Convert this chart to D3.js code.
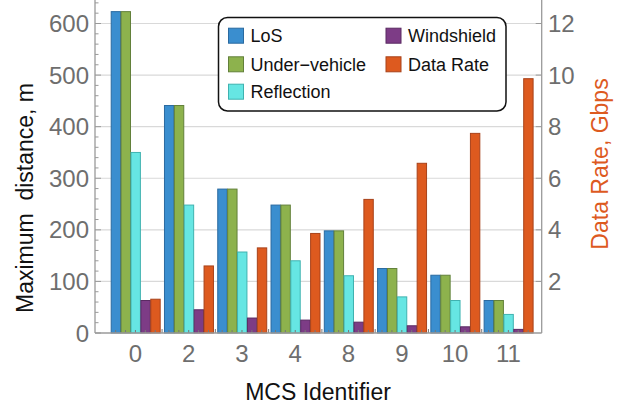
<!DOCTYPE html>
<html><head><meta charset="utf-8">
<script src="https://cdn.jsdelivr.net/npm/d3@7"></script>
<style>body{margin:0;background:#fff}svg{display:block;font-family:Arial,"Liberation Sans",sans-serif}</style>
</head><body><svg id="c" width="626" height="408"></svg>
<script>
const categories = ["0","2","3","4","8","9","10","11"];
const los        = [623, 441, 279, 248, 198, 125, 112, 63];
const underVeh   = [623, 441, 279, 248, 198, 125, 112, 63];
const reflection = [350, 248, 157, 140, 111, 70, 63, 36];
const windshield = [63, 45, 29, 25, 21, 14, 12, 7];
const dataRate   = [1.31, 2.6, 3.3, 3.86, 5.18, 6.58, 7.74, 9.86];
const leftTicks  = [0,100,200,300,400,500,600];
const rightTicks = [2,4,6,8,10,12];

const seriesNames = ["LoS","Under\u2212vehicle","Reflection","Windshield","Data Rate"];
const fills   = ["#3a8ecf","#8db24d","#66e6e3","#7d3c86","#dd5a1f"];
const strokes = ["#2a6aa0","#62803a","#3fb2b0","#5a2a62","#a8421a"];

const svg = d3.select("#c");
const X0 = 95, X1 = 541.7, Y0 = 333;
const y = d3.scaleLinear().domain([0, 600]).range([Y0, 23.5]);
const yTopVal = y.invert(0);
const yR = d3.scaleLinear().domain([0, 12]).range([Y0, 23.5]);
const x = d3.scaleBand().domain(categories).range([108.8, 535]).paddingInner(0.0713).paddingOuter(0.0357);
const x1 = d3.scaleBand().domain(d3.range(5)).range([0, x.bandwidth()]);

// gridlines
svg.append("g").selectAll("line").data(leftTicks.filter(d=>d>0)).join("line")
  .attr("x1", X0).attr("x2", X1).attr("y1", d=>y(d)).attr("y2", d=>y(d))
  .attr("stroke", "#d9d9d9").attr("stroke-width", 1.2);

// bars
const rows = categories.map((c,i)=>({c, vals:[
  {k:0, v:y(los[i])},{k:1, v:y(underVeh[i])},{k:2, v:y(reflection[i])},{k:3, v:y(windshield[i])},{k:4, v:yR(dataRate[i])}
]}));
const g = svg.append("g").selectAll("g").data(rows).join("g").attr("transform", d=>`translate(${x(d.c)},0)`);
g.selectAll("rect").data(d=>d.vals).join("rect")
  .attr("x", d=>x1(d.k)+0.5).attr("width", x1.bandwidth()-0.5)
  .attr("y", d=>d.v).attr("height", d=>Y0-d.v)
  .attr("fill", d=>fills[d.k]).attr("stroke", d=>strokes[d.k]).attr("stroke-width", 1);

// bottom small ticks at bar centers
const bt = svg.append("g");
categories.forEach(c=>{
  d3.range(5).forEach(k=>{
    const cx = x(c)+x1(k)+x1.bandwidth()/2;
    bt.append("line").attr("x1",cx).attr("x2",cx).attr("y1",Y0).attr("y2",Y0-3).attr("stroke","#777").attr("stroke-width",1);
  });
});
categories.slice(1).forEach(c=>{
  const cx = x(c) - x.step()*x.paddingInner()/2;
  bt.append("line").attr("x1",cx).attr("x2",cx).attr("y1",Y0).attr("y2",Y0-4).attr("stroke","#777").attr("stroke-width",1);
});

// left axis
const la = svg.append("g");
la.append("line").attr("x1",X0).attr("x2",X0).attr("y1",0).attr("y2",Y0).attr("stroke","#9a9a9a").attr("stroke-width",1.3);
d3.range(0, 650, 20).forEach(v=>{
  const major = v%100===0;
  la.append("line").attr("x1",X0).attr("x2",X0+(major?6:3.5)).attr("y1",y(v)).attr("y2",y(v)).attr("stroke","#9a9a9a").attr("stroke-width",1);
});
la.selectAll("text").data(leftTicks).join("text").attr("x",89).attr("y",d=>y(d)).attr("dy","0.36em")
  .attr("text-anchor","end").attr("font-size",24).attr("fill","#6e6e6e").text(d=>d);

// right axis
const ra = svg.append("g");
ra.append("line").attr("x1",X1).attr("x2",X1).attr("y1",0).attr("y2",Y0).attr("stroke","#9a9a9a").attr("stroke-width",1.3);
ra.selectAll("line.t").data(rightTicks).join("line").attr("class","t")
  .attr("x1",X1-6).attr("x2",X1).attr("y1",d=>yR(d)).attr("y2",d=>yR(d)).attr("stroke","#9a9a9a").attr("stroke-width",1);
ra.selectAll("text").data(rightTicks).join("text").attr("x",548).attr("y",d=>yR(d)).attr("dy","0.36em")
  .attr("text-anchor","start").attr("font-size",24).attr("fill","#6e6e6e").text(d=>d);

// bottom axis
svg.append("line").attr("x1",X0).attr("x2",X1).attr("y1",Y0).attr("y2",Y0).attr("stroke","#9a9a9a").attr("stroke-width",1.3);
svg.append("g").selectAll("text").data(categories).join("text")
  .attr("x",d=>x(d)+x.bandwidth()/2).attr("y",361.5).attr("text-anchor","middle")
  .attr("font-size",24).attr("fill","#6e6e6e").text(d=>d);

// titles
svg.append("text").attr("x",318).attr("y",399.5).attr("text-anchor","middle").attr("font-size",23).attr("fill","#111").text("MCS Identifier");
svg.append("text").attr("transform","translate(33,198) rotate(-90)").attr("text-anchor","middle")
  .attr("font-size",23).attr("fill","#111").attr("xml:space","preserve").style("white-space","pre").text("Maximum  distance, m");
svg.append("text").attr("transform","translate(608,164) rotate(-90)").attr("text-anchor","middle")
  .attr("font-size",23).attr("fill","#dd5a1f").text("Data Rate, Gbps");

// legend
const lg = svg.append("g");
lg.append("rect").attr("x",218.5).attr("y",17.5).attr("width",287.5).attr("height",93.5).attr("rx",9)
  .attr("fill","#fff").attr("stroke","#111").attr("stroke-width",1.5);
const pos = [[228.5,35.7],[228.5,64.3],[228.5,91.7],[386,35.7],[386,64.3]];
seriesNames.forEach((n,i)=>{
  const [lx,ly]=pos[i];
  lg.append("rect").attr("x",lx).attr("y",ly-7.5).attr("width",15).attr("height",15)
    .attr("fill",fills[i]).attr("stroke",strokes[i]).attr("stroke-width",1);
  lg.append("text").attr("x",lx+22).attr("y",ly).attr("dy","0.36em").attr("font-size",18).attr("fill","#111").text(n);
});
</script></body></html>
